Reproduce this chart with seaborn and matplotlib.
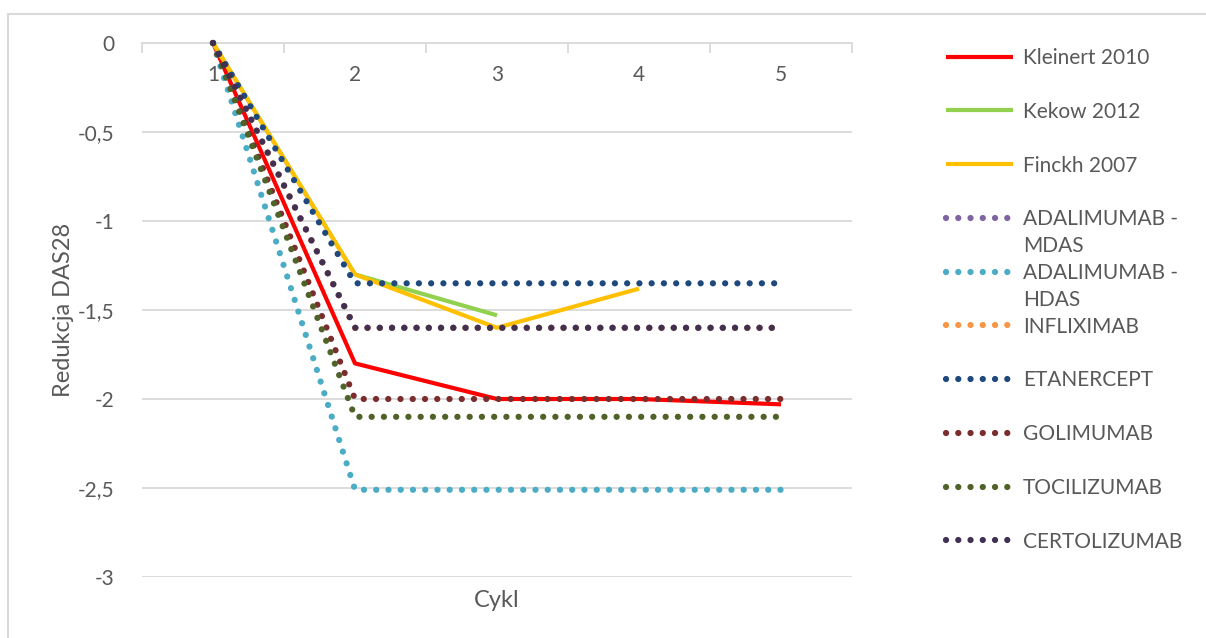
import matplotlib
matplotlib.use("Agg")
import matplotlib.pyplot as plt
import seaborn as sns
from matplotlib.patches import Rectangle
from matplotlib.ticker import FuncFormatter

# Treatment cycles on the category axis
cycles = [1, 2, 3, 4, 5]
cycle_labels = ["1", "2", "3", "4", "5"]

# Published cohorts (solid lines)
kleinert_2010 = [0, -1.8, -2.0, -2.0, -2.03]
kekow_2012 = [0, -1.3, -1.53]
finckh_2007 = [0, -1.3, -1.6, -1.38]

# Model assumptions per drug (dotted lines)
adalimumab_mdas = [0, -1.6, -1.6, -1.6, -1.6]
adalimumab_hdas = [0, -2.51, -2.51, -2.51, -2.51]
infliximab = [0, -1.6, -1.6, -1.6, -1.6]
etanercept = [0, -1.35, -1.35, -1.35, -1.35]
golimumab = [0, -2.0, -2.0, -2.0, -2.0]
tocilizumab = [0, -2.1, -2.1, -2.1, -2.1]
certolizumab = [0, -1.6, -1.6, -1.6, -1.6]

y_ticks = [0, -0.5, -1, -1.5, -2, -2.5, -3]

solid_series = [
    ("Kleinert 2010", kleinert_2010, "#FF0000"),
    ("Kekow 2012", kekow_2012, "#92D050"),
    ("Finckh 2007", finckh_2007, "#FFC000"),
]
dotted_series = [
    ("ADALIMUMAB -\nMDAS", adalimumab_mdas, "#8064A2"),
    ("ADALIMUMAB -\nHDAS", adalimumab_hdas, "#4BACC6"),
    ("INFLIXIMAB", infliximab, "#F79646"),
    ("ETANERCEPT", etanercept, "#1F497D"),
    ("GOLIMUMAB", golimumab, "#7B2C2C"),
    ("TOCILIZUMAB", tocilizumab, "#4F6228"),
    ("CERTOLIZUMAB", certolizumab, "#403152"),
]

sns.set_theme(style="white")
plt.rcParams["font.family"] = ["Lato", "DejaVu Sans"]
text_color = "#595959"
grid_color = "#D9D9D9"
FS = 15          # legend and tick labels
FS_TITLE = 17    # axis titles

W, H = 1206, 638
fig = plt.figure(figsize=(W / 100, H / 100), dpi=100)
ax = fig.add_axes([142 / W, 1 - 577 / H, 710 / W, 534 / H])

for name, vals, color in solid_series:
    sns.lineplot(x=cycles[:len(vals)], y=vals, ax=ax, color=color,
                 linewidth=3.0, solid_capstyle="butt", clip_on=False,
                 legend=False, zorder=3)
for name, vals, color in dotted_series:
    sns.lineplot(x=cycles[:len(vals)], y=vals, ax=ax, color=color,
                 linewidth=4.5, linestyle=(0, (0.01, 1.95)),
                 dash_capstyle="round", clip_on=False, legend=False, zorder=3)

ax.set_xlim(0.5, 5.5)
ax.set_ylim(-3, 0)

# Category axis crosses at zero, labels sit just below it
for side in ["top", "left", "right"]:
    ax.spines[side].set_visible(False)
ax.spines["bottom"].set_position(("data", 0))
ax.spines["bottom"].set_color(grid_color)
ax.spines["bottom"].set_linewidth(1.3)
ax.spines["bottom"].set_zorder(1)

ax.set_xticks(cycles)
ax.set_xticklabels(cycle_labels)
ax.set_xticks([c - 0.5 for c in cycles] + [cycles[-1] + 0.5], minor=True)
ax.tick_params(axis="x", which="major", length=0, pad=16,
               labelsize=FS, labelcolor=text_color)
ax.tick_params(axis="x", which="minor", length=7, width=1.3,
               color=grid_color, direction="out", bottom=True)

ax.set_yticks(y_ticks)
ax.yaxis.set_major_formatter(
    FuncFormatter(lambda v, _: f"{v:g}".replace(".", ",")))
ax.tick_params(axis="y", length=0, pad=20, labelsize=FS, labelcolor=text_color)
ax.grid(axis="y", color=grid_color, linewidth=1.3, zorder=0)
ax.grid(axis="x", visible=False)
ax.set_axisbelow(True)

ax.set_ylabel("Redukcja DAS28", fontsize=FS_TITLE, color=text_color)
ax.yaxis.set_label_coords((74 - 142) / 710, 0.5)
ax.set_xlabel("Cykl", fontsize=FS_TITLE, color=text_color)
ax.xaxis.set_label_coords(0.5, (577 - 590) / 534)

# Legend: first line of each label beside the key, wrapped part added below
names = [s[0] for s in solid_series + dotted_series]
first_lines = [n.split("\n")[0] for n in names]
leg = ax.legend(ax.lines, first_lines, loc="upper left",
                bbox_to_anchor=(946 / W, 1 - 48 / H), bbox_transform=fig.transFigure,
                frameon=False, fontsize=FS, labelcolor=text_color,
                handlelength=3.2, handletextpad=0.5, labelspacing=1.62,
                borderpad=0, borderaxespad=0)

fig.canvas.draw()
for name, txt in zip(names, leg.get_texts()):
    parts = name.split("\n")
    if len(parts) > 1:
        bb = txt.get_window_extent()
        fig.text(bb.x0 / W, (bb.y0 - 27) / H, parts[1], fontsize=FS,
                 color=text_color, ha="left", va="bottom")

# Chart frame
fig.patches.append(Rectangle((8 / W, -0.1), 1.2, 1.1 - 14 / H,
                             transform=fig.transFigure, fill=False,
                             edgecolor=grid_color, linewidth=1.5))

fig.savefig("out.png", dpi=100)
